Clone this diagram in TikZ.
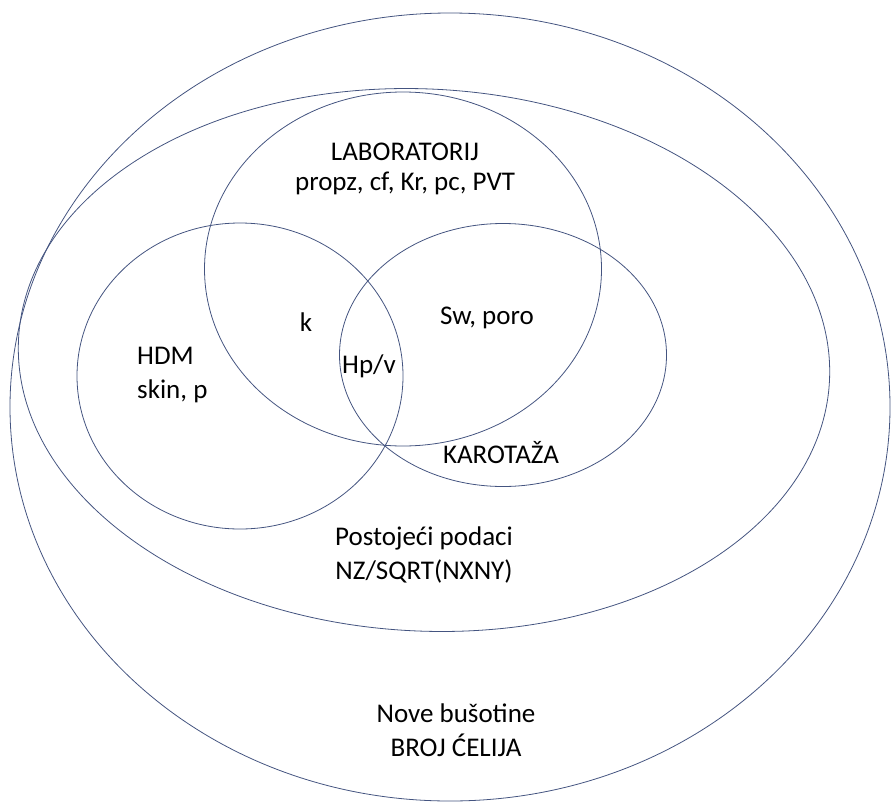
\documentclass[tikz,border=0pt]{standalone}
\usepackage{fontspec}
\setmainfont{Carlito}
\usetikzlibrary{shapes.geometric}
\definecolor{setline}{RGB}{68,84,128}
\tikzset{
  set/.style ={ellipse, draw=setline, line width=0.8pt, inner sep=0pt, outer sep=0pt},
  lbl/.style ={align=center, font=\fontsize{27}{34}\selectfont, inner sep=0pt},
}

\begin{document}
\begin{tikzpicture}[x=1pt, y=-1pt]
  \useasboundingbox (0,0) rectangle (893,803);
  % sets, outermost first
  \node[set, minimum width=880, minimum height=788] (nove) at (450,407) {};
  \node[set, minimum width=812, minimum height=542, rotate=-3] (post) at (424,360) {};
  \node[set, minimum width=326, minimum height=306] (hdm) at (240,376) {};
  \node[set, minimum width=397, minimum height=354] (lab) at (403,269) {};
  \node[set, minimum width=327, minimum height=263] (kar) at (503,355) {};
  % labels
  \node[lbl, font=\fontsize{27}{30.5}\selectfont] (tlab) at (405,169) {LABORATORIJ\\propz, cf, Kr, pc, PVT};
  \node[lbl] (tk) at (306,322) {k};
  \node[lbl] (tsw) at (487,318) {Sw, poro};
  \node[lbl, align=left, anchor=west] (thdm) at (137,375) {HDM\\skin, p};
  \node[lbl] (thp) at (369,366) {Hp/v};
  \node[lbl] (tkar) at (501,453) {KAROTAŽA};
  \node[lbl] (tpost) at (424,555) {Postojeći podaci\\NZ/SQRT(NXNY)};
  \node[lbl] (tnove) at (456,730) {Nove bušotine\\BROJ ĆELIJA};
\end{tikzpicture}
\end{document}
